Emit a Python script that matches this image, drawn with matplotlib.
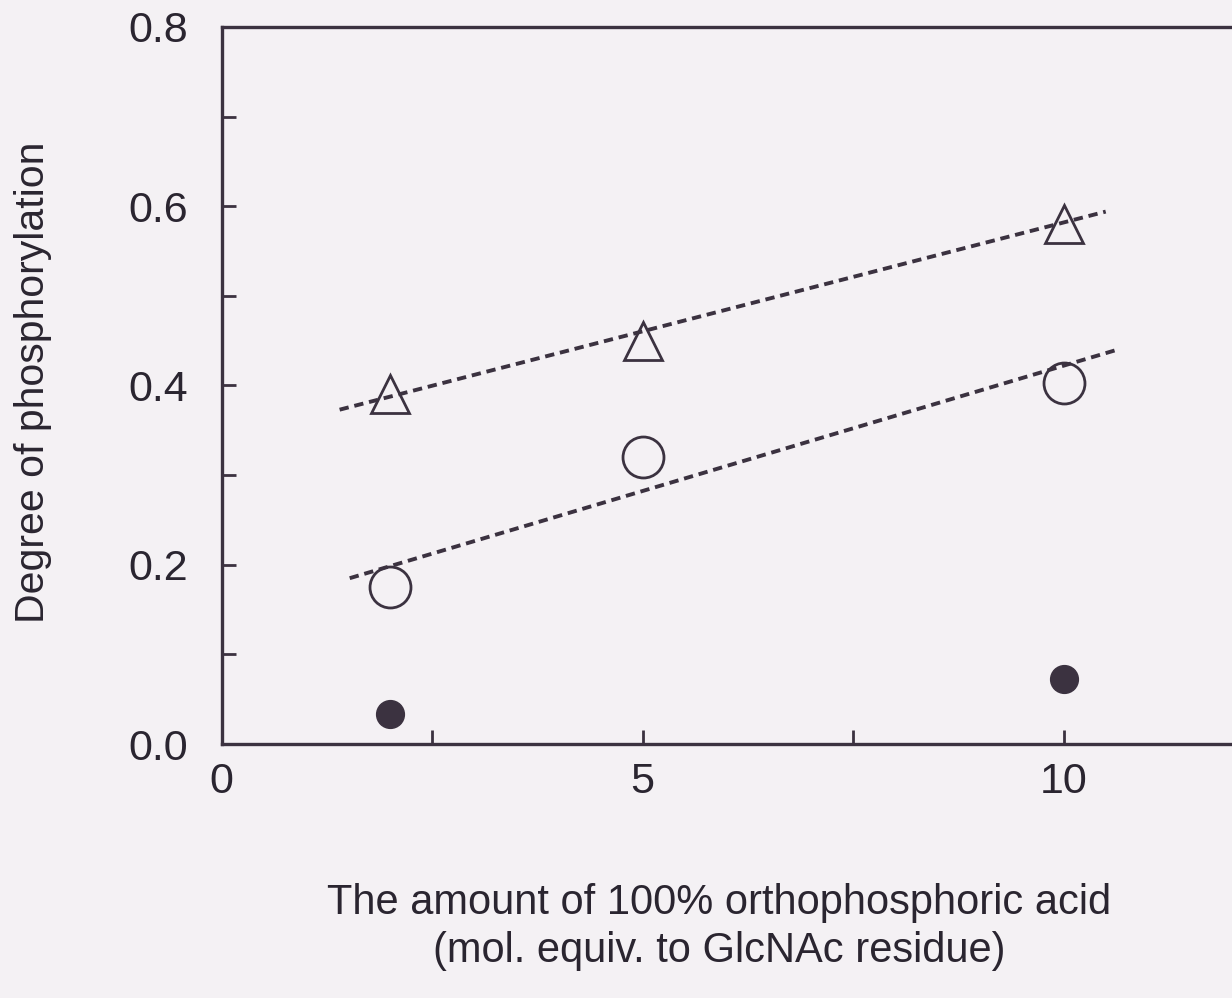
import matplotlib.pyplot as plt

INK = "#3b3240"
PAPER = "#f4f1f4"

# phosphorylation degree vs. amount of H3PO4
amount = [2, 5, 10]
tri_deg = [0.39, 0.45, 0.58]
open_deg = [0.175, 0.32, 0.403]
filled_x = [2, 10]
filled_deg = [0.033, 0.072]

# dashed trend lines (end points)
tri_fit_x = [1.4, 10.5]
tri_fit_y = [0.373, 0.594]
open_fit_x = [1.52, 10.64]
open_fit_y = [0.185, 0.44]

plt.rcParams["font.family"] = ["Liberation Sans", "DejaVu Sans"]

fig = plt.figure(figsize=(12.32, 9.98), dpi=100, facecolor=PAPER)
ax = fig.add_axes([0.180, 0.2545, 0.820, 0.7185], facecolor=PAPER)

dash = (0, (2.4, 1.5))
ax.plot(tri_fit_x, tri_fit_y, ls=dash, lw=2.8, color=INK, zorder=2)
ax.plot(open_fit_x, open_fit_y, ls=dash, lw=2.8, color=INK, zorder=2)

ax.plot(amount, tri_deg, ls="none", marker="^", ms=27, mfc="none",
        mec=INK, mew=2.0, zorder=3)
ax.plot(amount, open_deg, ls="none", marker="o", ms=29.5, mfc="none",
        mec=INK, mew=2.0, zorder=3)
ax.plot(filled_x, filled_deg, ls="none", marker="o", ms=20, mfc=INK,
        mec=INK, zorder=3)

ax.set_xlim(0, 12)
ax.set_ylim(0, 0.8)
ax.set_xticks([0, 2.5, 5, 7.5, 10])
ax.set_xticklabels(["0", "", "5", "", "10"])
ax.set_yticks([0, 0.1, 0.2, 0.3, 0.4, 0.5, 0.6, 0.7, 0.8])
ax.set_yticklabels(["0.0", "", "0.2", "", "0.4", "", "0.6", "", "0.8"])

ax.spines["right"].set_visible(False)
for s in ["left", "top", "bottom"]:
    ax.spines[s].set_linewidth(2.4)
    ax.spines[s].set_color(INK)
ax.tick_params(direction="in", length=10, width=2, colors=INK,
               labelsize=31, labelcolor="#2a2530")
ax.tick_params(axis="x", pad=13)
ax.tick_params(axis="y", pad=24)

ax.set_ylabel("Degree of phosphorylation", fontsize=29.5, color="#2a2530")
ax.yaxis.set_label_coords(-0.168, 0.505)
ax.set_xlabel("The amount of 100% orthophosphoric acid\n"
              "(mol. equiv. to GlcNAc residue)",
              fontsize=30, color="#2a2530", linespacing=1.25)
ax.xaxis.set_label_coords(0.492, -0.194)

fig.savefig("out.png", dpi=100, facecolor=PAPER)
